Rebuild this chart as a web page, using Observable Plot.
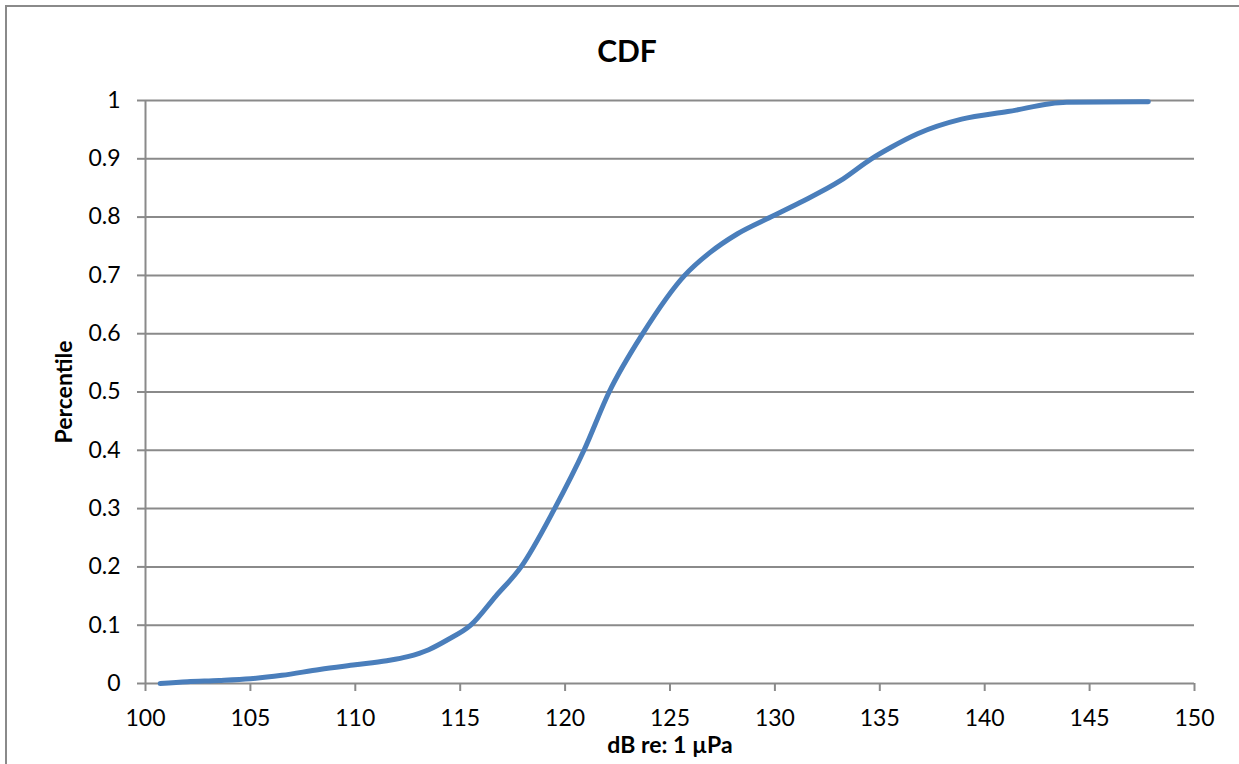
<!DOCTYPE html>
<html>
<head>
<meta charset="utf-8">
<script src="https://cdn.jsdelivr.net/npm/d3@7"></script>
<script src="https://cdn.jsdelivr.net/npm/@observablehq/plot@0.6"></script>
<style>
  html, body { margin: 0; padding: 0; background: #fff; overflow: hidden; }
  body { width: 1239px; height: 764px; position: relative; font-family: Lato, "Open Sans", sans-serif; }
  #frame { position: absolute; left: 5px; top: 5px; width: 1300px; height: 800px;
           border-top: 2px solid #8a8a8a; border-left: 2px solid #8a8a8a; box-sizing: border-box; }
  #title { position: absolute; left: 0; top: 0; width: 1254px; height: 80px; line-height: 100px;
           text-align: center; font-weight: bold; font-size: 30px; color: #000; }
  #chart { position: absolute; left: 0; top: 80px; }
</style>
</head>
<body>
<div id="frame"></div>
<div id="title">CDF</div>
<div id="chart"></div>
<script>
// dB re: 1 µPa values (x) and cumulative fraction (y)
const dbValues = [100.7, 102, 103.5, 105, 106.5, 108.3, 110, 111.5, 112.5, 113.5, 114.4, 115.5,
  116.7, 117.9, 119.5, 120.9, 122.1, 123.7, 125.7, 126.9, 128.2, 129.8, 131.2,
  133.1, 134.6, 135.5, 136.8, 138.9, 141.1, 143.9, 147.8];
const percentile = [0, 0.003, 0.005, 0.008, 0.014, 0.024, 0.032, 0.039, 0.046, 0.058, 0.075, 0.100,
  0.150, 0.200, 0.300, 0.400, 0.500, 0.600, 0.700, 0.739, 0.771, 0.800, 0.825,
  0.862, 0.900, 0.919, 0.943, 0.968, 0.981, 0.997, 0.998];
const xTicks = [100, 105, 110, 115, 120, 125, 130, 135, 140, 145, 150];
const yTicks = [0, 0.1, 0.2, 0.3, 0.4, 0.5, 0.6, 0.7, 0.8, 0.9, 1];
const xLabel = "dB re: 1 µPa";
const yLabel = "Percentile";

const data = dbValues.map((d, i) => ({x: d, y: percentile[i]}));
const gridColor = "#8a8a8a";

const chart = Plot.plot({
  width: 1239,
  height: 684,
  marginLeft: 145,
  marginRight: 45,
  marginTop: 20,
  marginBottom: 81,
  style: {fontFamily: "Lato, 'Open Sans', sans-serif", fontSize: "23px", color: "#000", background: "transparent"},
  x: {domain: [100, 150], ticks: xTicks, tickFormat: d => String(d)},
  y: {domain: [0, 1], ticks: yTicks, tickFormat: d => String(d)},
  marks: [
    Plot.ruleY(yTicks, {stroke: gridColor, strokeWidth: 2, strokeOpacity: 1}),
    Plot.ruleX([100], {stroke: gridColor, strokeWidth: 2}),
    Plot.axisX({ticks: xTicks, tickSize: 8, tickPadding: 18, stroke: gridColor, strokeWidth: 2, strokeOpacity: 1, label: null, fill: "#000", tickFormat: d => String(d)}),
    Plot.axisY({ticks: yTicks, tickSize: 8, tickPadding: 17, stroke: gridColor, strokeWidth: 2, strokeOpacity: 1, label: null, fill: "#000", tickFormat: d => String(d)}),
    Plot.line(data, {x: "x", y: "y", stroke: "#4a7ebb", strokeWidth: 5, curve: "monotone-x", strokeLinecap: "round"}),
    Plot.text([xLabel], {frameAnchor: "bottom", dy: 62, text: d => d, fontWeight: "bold", fontSize: 23, textAnchor: "middle", lineAnchor: "middle", fill: "#000"}),
    Plot.text([yLabel], {frameAnchor: "left", dx: -81, rotate: -90, text: d => d, fontWeight: "bold", fontSize: 23, textAnchor: "middle", lineAnchor: "middle", fill: "#000"})
  ]
});
document.getElementById("chart").appendChild(chart);
</script>
</body>
</html>
